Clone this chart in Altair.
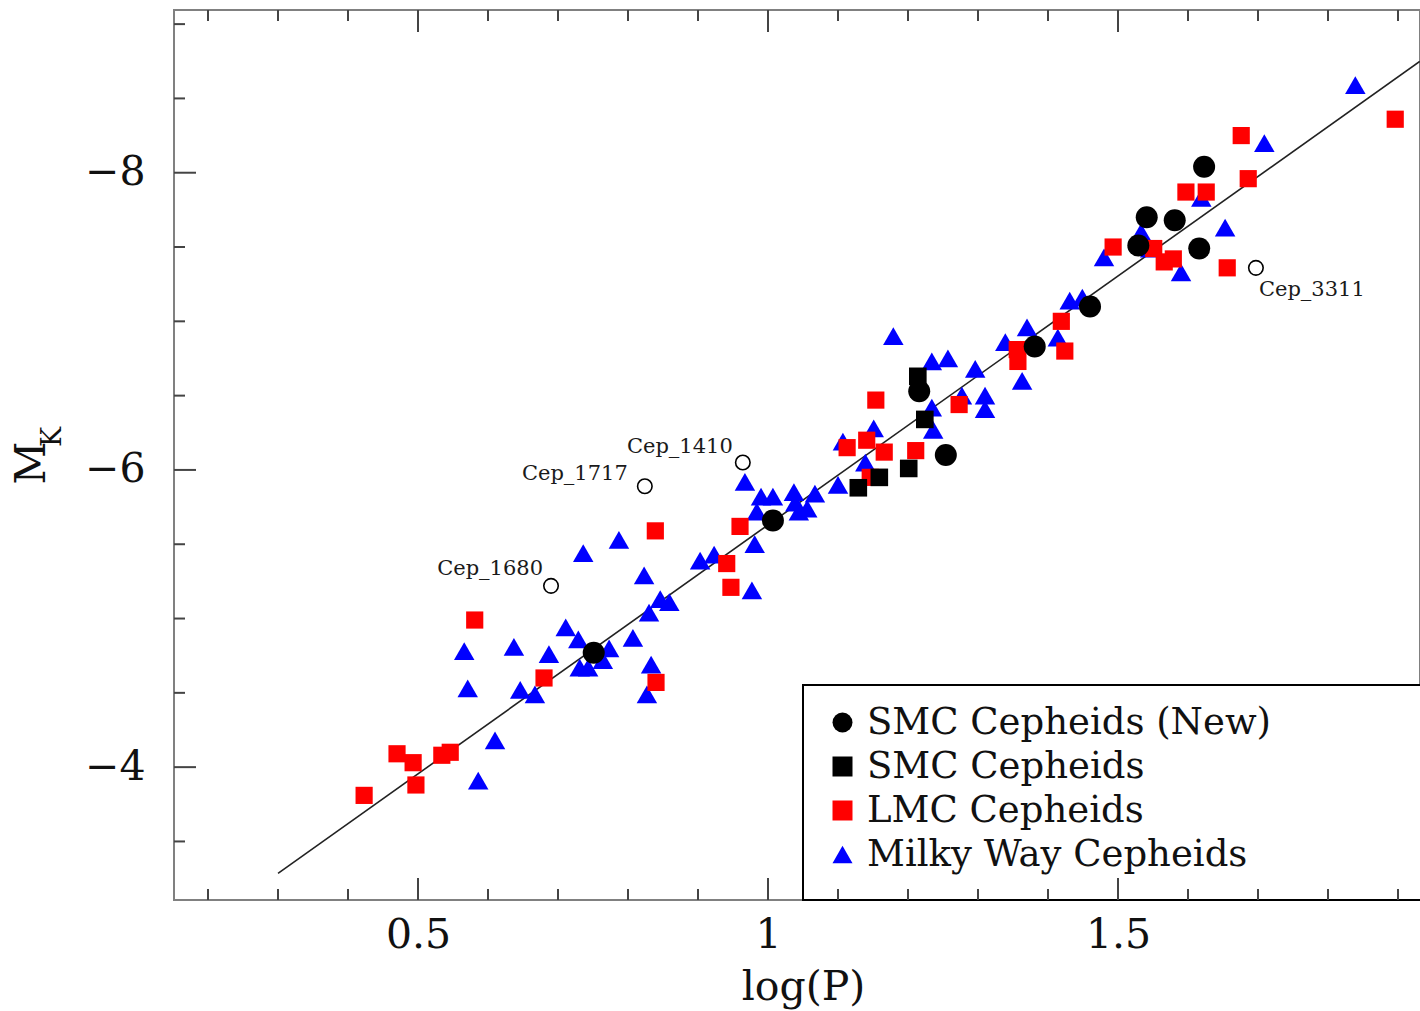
import altair as alt
import pandas as pd

# ---------------- data ----------------
smc_new_logp = [0.751, 1.007, 1.216, 1.254, 1.381, 1.460, 1.529, 1.541, 1.581, 1.616, 1.623]
smc_new_mk = [-4.77, -5.66, -6.53, -6.10, -6.83, -7.10, -7.51, -7.70, -7.68, -7.49, -8.04]

smc_logp = [1.129, 1.159, 1.201, 1.214, 1.224]
smc_mk = [-5.88, -5.95, -6.01, -6.63, -6.34]

lmc_logp = [0.423, 0.470, 0.493, 0.497, 0.534, 0.546, 0.581, 0.680, 0.840, 0.839,
            0.941, 0.947, 0.960, 1.113, 1.141, 1.166, 1.154, 1.146, 1.211, 1.273,
            1.356, 1.357, 1.419, 1.424, 1.493, 1.551, 1.566, 1.579, 1.597, 1.626,
            1.656, 1.676, 1.686, 1.896]
lmc_mk = [-3.81, -4.09, -4.03, -3.88, -4.08, -4.10, -4.99, -4.60, -4.57, -5.59,
          -5.37, -5.21, -5.62, -6.15, -6.20, -6.12, -6.47, -5.95, -6.13, -6.44,
          -6.81, -6.73, -7.00, -6.80, -7.50, -7.49, -7.40, -7.42, -7.87, -7.87,
          -7.36, -8.25, -7.96, -8.36]

mw_logp = [0.566, 0.571, 0.586, 0.610, 0.637, 0.646, 0.667, 0.687, 0.711, 0.729,
           0.731, 0.743, 0.764, 0.773, 0.736, 0.787, 0.807, 0.823, 0.830, 0.846,
           0.859, 0.833, 0.827, 0.903, 0.923, 0.967, 0.977, 0.981, 0.990, 1.007,
           0.984, 1.037, 1.039, 1.044, 1.056, 1.067, 1.100, 1.107, 1.139, 1.151,
           1.179, 1.234, 1.257, 1.296, 1.277, 1.310, 1.310, 1.234, 1.236, 1.339,
           1.370, 1.363, 1.414, 1.431, 1.449, 1.480, 1.533, 1.546, 1.590, 1.619,
           1.653, 1.709, 1.839]
mw_mk = [-4.78, -4.53, -3.91, -4.18, -4.81, -4.52, -4.49, -4.76, -4.94, -4.86,
         -4.67, -4.67, -4.72, -4.80, -5.44, -5.53, -4.87, -5.29, -5.04, -5.13,
         -5.11, -4.69, -4.49, -5.39, -5.43, -5.92, -5.19, -5.50, -5.82, -5.82,
         -5.72, -5.85, -5.78, -5.72, -5.74, -5.84, -5.90, -6.19, -6.05, -6.28,
         -6.90, -6.73, -6.75, -6.68, -6.50, -6.50, -6.41, -6.42, -6.27, -6.86,
         -6.96, -6.60, -6.89, -7.14, -7.16, -7.43, -7.60, -7.49, -7.33, -7.83,
         -7.63, -8.20, -8.59]

cep_names = ["Cep_1680", "Cep_1717", "Cep_1410", "Cep_3311"]
cep_logp = [0.690, 0.824, 0.964, 1.697]
cep_mk = [-5.22, -5.89, -6.05, -7.36]

fit_logp = [0.30, 1.931]
fit_mk = [-3.285, -8.749]

groups = ["SMC Cepheids (New)", "SMC Cepheids", "LMC Cepheids", "Milky Way Cepheids"]

x_major = [0.5, 1.0, 1.5]
x_minor = [0.2, 0.3, 0.4, 0.6, 0.7, 0.8, 0.9, 1.1, 1.2, 1.3, 1.4, 1.6, 1.7, 1.8, 1.9]
y_major = [-8, -6, -4]
y_minor = [-9, -8.5, -7.5, -7, -6.5, -5.5, -5, -4.5, -3.5]

# ---------------- tables ----------------
rows = []
for name, xs, ys in [(groups[3], mw_logp, mw_mk), (groups[2], lmc_logp, lmc_mk),
                     (groups[1], smc_logp, smc_mk), (groups[0], smc_new_logp, smc_new_mk)]:
    for a, b in zip(xs, ys):
        rows.append({"logP": a, "MK": b, "group": name})
pts = pd.DataFrame(rows)
cep_df = pd.DataFrame({"logP": cep_logp, "MK": cep_mk, "name": cep_names})
fit_df = pd.DataFrame({"logP": fit_logp, "MK": fit_mk})

W, H = 1246, 890
FONT = "DejaVu Serif"
TXT = "#111111"

xscale = alt.Scale(domain=[0.1514, 1.9314], nice=False, zero=False)
yscale = alt.Scale(domain=[-9.095, -3.106], reverse=True, nice=False, zero=False)

xaxis = alt.Axis(values=x_major, format="~g", ticks=False, tickSize=0, domain=False, grid=False,
                 labelFont=FONT, labelFontSize=41, labelColor=TXT, labelPadding=15,
                 labelFlush=False, labelOverlap=False,
                 title="log(P)", titleFont=FONT, titleFontSize=41, titleFontWeight="normal",
                 titleColor=TXT, titleBaseline="alphabetic", titleY=99, titleX=629,
                 titleAlign="center")
yaxis = alt.Axis(values=y_major, format="~g", ticks=False, tickSize=0, domain=False, grid=False,
                 labelFont=FONT, labelFontSize=41, labelColor=TXT, labelPadding=29,
                 labelOverlap=False, labelFlush=False, title=None)

X = alt.X("logP:Q", scale=xscale, axis=xaxis)
Y = alt.Y("MK:Q", scale=yscale, axis=yaxis)

legend = alt.Legend(orient="none", legendX=650, legendY=694, padding=0, title=None,
                    labelFont=FONT, labelFontSize=37, labelColor=TXT, labelLimit=700,
                    labelOffset=6, rowPadding=6, symbolStrokeWidth=0, symbolSize=400,
                    direction="vertical")

COLOR = alt.Color("group:N", title=None, legend=legend,
                  scale=alt.Scale(domain=groups, range=["#000000", "#000000", "#ff0000", "#0000ff"]))
SHAPE = alt.Shape("group:N", title=None, legend=legend,
                  scale=alt.Scale(domain=groups, range=["circle", "square", "square", "triangle-up"]))

box = alt.Chart(alt.Data(values=[{"a": 1}])).mark_rect(
    fill="white", stroke="black", strokeWidth=2
).encode(x=alt.value(629), x2=alt.value(1262), y=alt.value(675), y2=alt.value(H))

fit = alt.Chart(fit_df).mark_line(color="#222222", strokeWidth=1.6, clip=True).encode(x=X, y=Y)

# marker size (area, px^2) for each group, drawn in this order
marker_size = {groups[3]: 420, groups[2]: 295, groups[1]: 310, groups[0]: 484}
point_layers = []
for g in [groups[3], groups[2], groups[1], groups[0]]:
    point_layers.append(
        alt.Chart(pts).transform_filter(alt.datum.group == g).mark_point(
            filled=True, opacity=1, size=marker_size[g]
        ).encode(x=X, y=Y, color=COLOR, shape=SHAPE)
    )

open_c = alt.Chart(cep_df).mark_point(shape="circle", filled=False, color="black",
                                      size=210, strokeWidth=1.6, opacity=1).encode(x=X, y=Y)

offsets = {"Cep_1680": ("right", -8, -17), "Cep_1717": ("right", -17, -12),
           "Cep_1410": ("right", -10, -16), "Cep_3311": ("left", 3, 22)}
labels = []
for nm in cep_names:
    al, ddx, ddy = offsets[nm]
    labels.append(
        alt.Chart(cep_df).transform_filter(alt.datum.name == nm).mark_text(
            font=FONT, fontSize=21, color="#1a1a1a", align=al, baseline="middle", dx=ddx, dy=ddy
        ).encode(x=X, y=Y, text="name:N")
    )

TICK = "#444444"
def xt(vals, ya, yb):
    return alt.Chart(pd.DataFrame({"logP": vals})).mark_rule(color=TICK, strokeWidth=2).encode(
        x=X, y=alt.value(ya), y2=alt.value(yb))
def yt(vals, xb):
    return alt.Chart(pd.DataFrame({"MK": vals})).mark_rule(color=TICK, strokeWidth=2).encode(
        y=Y, x=alt.value(0), x2=alt.value(xb))

ticks = [xt(x_minor, H, H - 11), xt(x_major, H, H - 22), xt(x_minor, 0, 11), xt(x_major, 0, 22),
         yt(y_minor, 11), yt(y_major, 22)]

m_txt = alt.Chart(alt.Data(values=[{"t": "M"}])).mark_text(
    font=FONT, fontSize=42, angle=270, align="center", baseline="middle", color=TXT
).encode(x=alt.value(-142), y=alt.value(453), text="t:N")
k_txt = alt.Chart(alt.Data(values=[{"t": "K"}])).mark_text(
    font=FONT, fontSize=27, angle=270, align="center", baseline="middle", color=TXT
).encode(x=alt.value(-121), y=alt.value(427), text="t:N")

chart = alt.layer(box, fit, *point_layers, open_c, *labels, *ticks, m_txt, k_txt).properties(
    width=W, height=H,
    padding={"left": 174, "top": 10, "right": 0, "bottom": 111},
    autosize=alt.AutoSizeParams(type="none"),
).configure_view(stroke="#808080", strokeWidth=2)

chart.save("out.html", embed_options={"renderer": "svg", "actions": False})
